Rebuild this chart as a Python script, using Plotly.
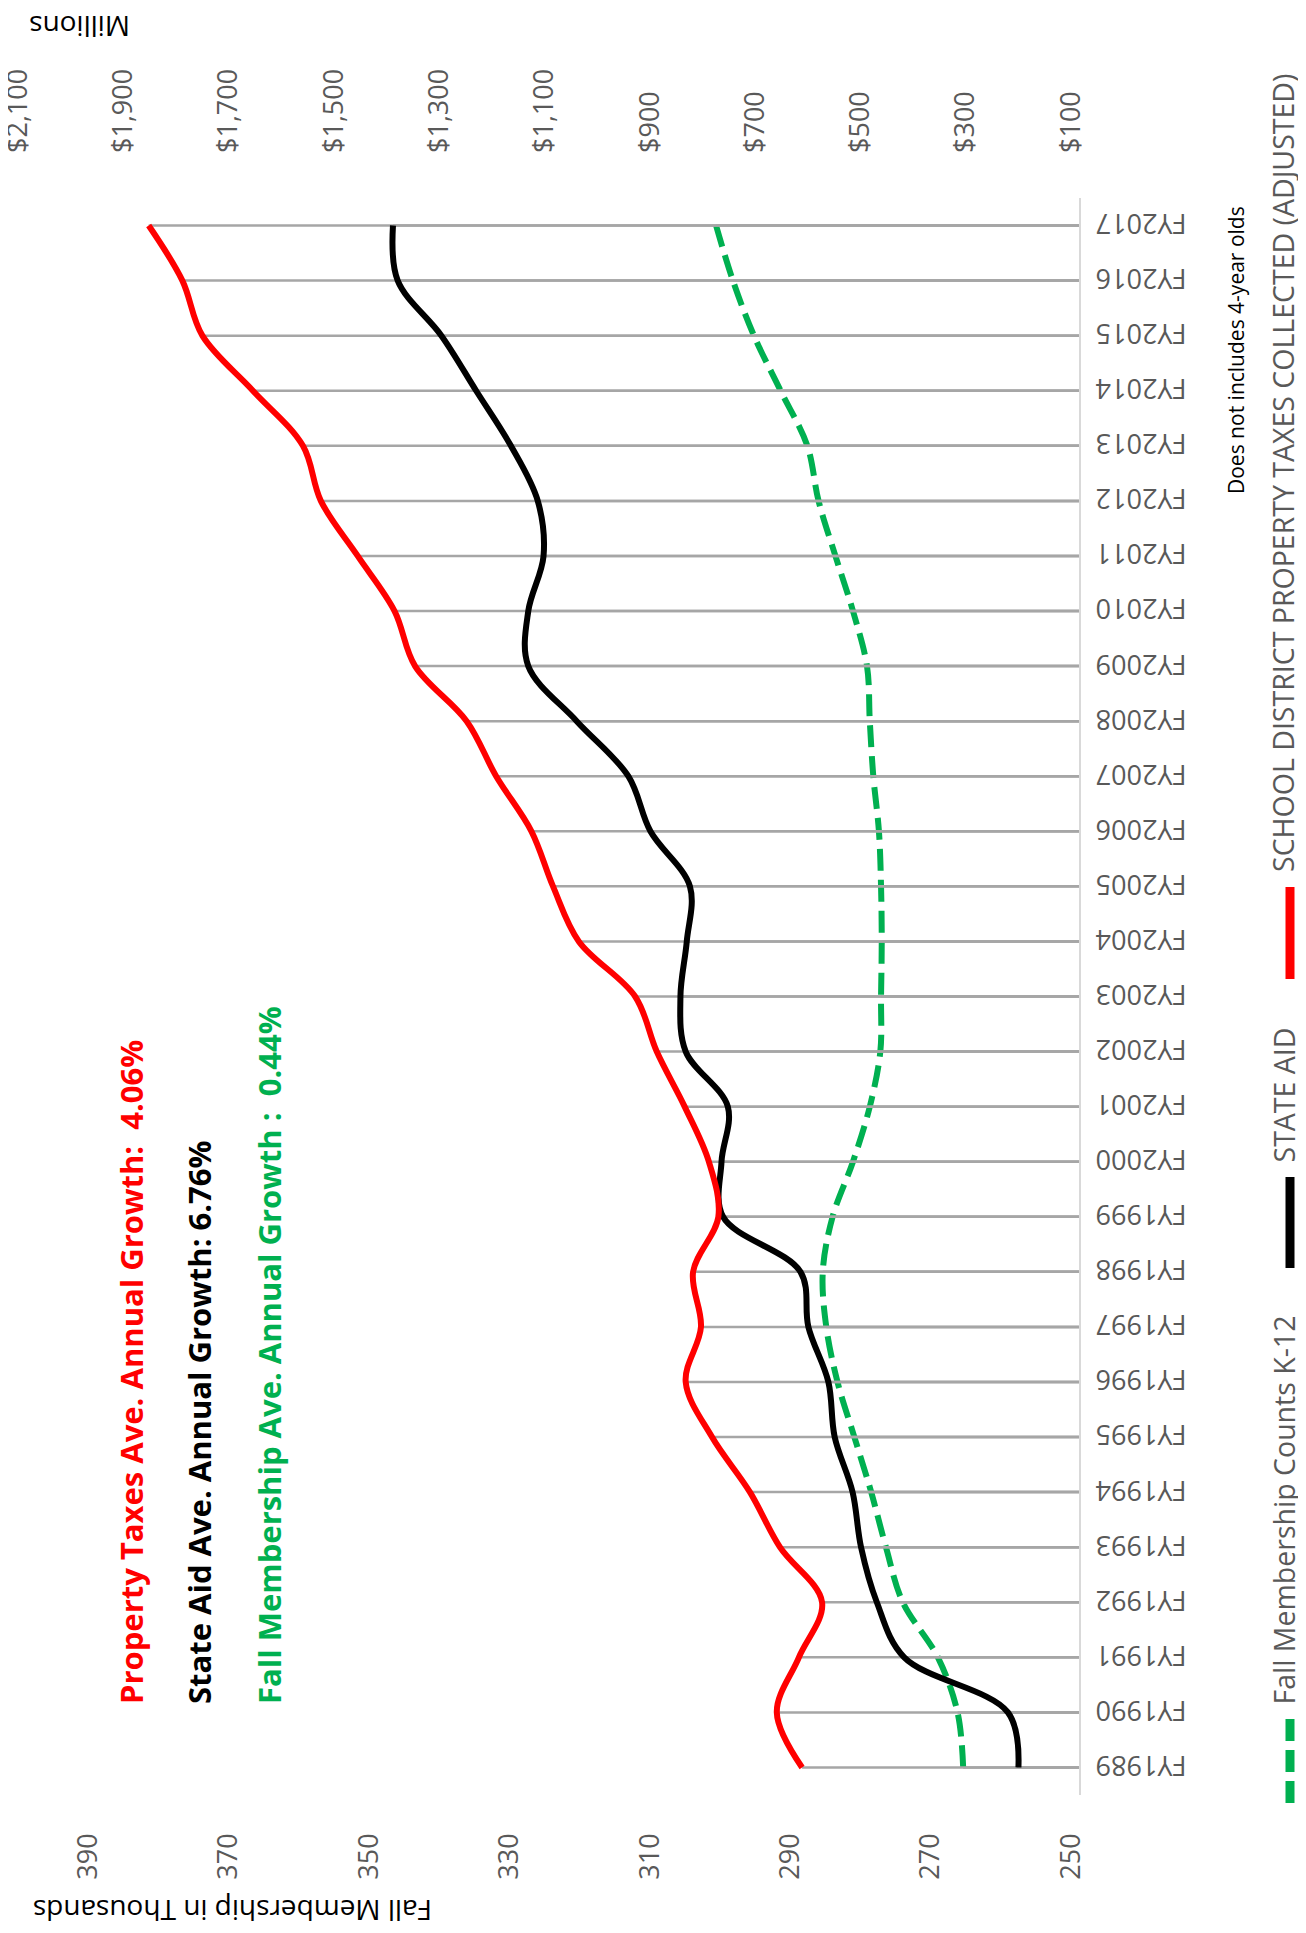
import plotly.graph_objects as go

# ---------------- data ----------------
fiscal_years = ["FY1989", "FY1990", "FY1991", "FY1992", "FY1993", "FY1994", "FY1995",
                "FY1996", "FY1997", "FY1998", "FY1999", "FY2000", "FY2001", "FY2002",
                "FY2003", "FY2004", "FY2005", "FY2006", "FY2007", "FY2008", "FY2009",
                "FY2010", "FY2011", "FY2012", "FY2013", "FY2014", "FY2015", "FY2016",
                "FY2017"]

# Fall membership counts K-12 (thousands)
membership = [266.5, 267.3, 270.1, 275.1, 277.5, 279.6, 282.0, 284.4, 286.0, 286.5,
              285.1, 282.2, 279.8, 278.3, 278.2, 278.1, 278.2, 278.5, 279.3, 279.8,
              280.2, 282.2, 284.7, 287.1, 288.7, 292.5, 296.3, 299.3, 301.7]

# State aid ($ millions)
state_aid = [215, 235, 432, 484, 514, 530, 564, 576, 614, 629,
             776, 779, 767, 847, 857, 845, 839, 914, 956, 1054,
             1146, 1146, 1117, 1128, 1179, 1245, 1311, 1394, 1403]

# School district property taxes collected, adjusted ($ millions)
property_taxes = [626, 674, 632, 588, 668, 725, 797, 847, 818, 833,
                  785, 803, 849, 902, 943, 1050, 1099, 1140, 1207, 1263,
                  1361, 1400, 1470, 1540, 1574, 1669, 1765, 1803, 1867]

membership_ticks = [250, 270, 290, 310, 330, 350, 370, 390]
money_ticks = [100, 300, 500, 700, 900, 1100, 1300, 1500, 1700, 1900, 2100]
money_ticktext = ["$100", "$300", "$500", "$700", "$900", "$1,100", "$1,300",
                  "$1,500", "$1,700", "$1,900", "$2,100"]

legend_labels = ["SCHOOL DISTRICT PROPERTY TAXES COLLECTED (ADJUSTED)", "STATE AID",
                 "Fall Membership Counts K-12"]
growth_notes = ["Property Taxes Ave. Annual Growth:  4.06%",
                "State Aid Ave. Annual Growth: 6.76%",
                "Fall Membership Ave. Annual Growth :  0.44%"]

RED = "#FF0000"
BLACK = "#000000"
GREEN = "#00B050"
GRAY_TXT = "#595959"
FONT = "Open Sans"

W, H = 1306, 1933
L, R, T, B = 18, 235, 190, 146
PW, PH = W - L - R, H - T - B


def px(x):
    return (x - L) / PW


def py(y):
    return (H - B - y) / PH


def drop_segments(values, base):
    xs, ys = [], []
    for cat, v in zip(fiscal_years, values):
        xs += [v, base, None]
        ys += [cat, cat, None]
    return xs, ys


fig = go.Figure()

# drop lines (from each point to the category axis)
for vals, base, xa in [(property_taxes, 100, "x2"), (state_aid, 100, "x2"), (membership, 250, "x")]:
    dx, dy = drop_segments(vals, base)
    fig.add_trace(go.Scatter(x=dx, y=dy, xaxis=xa, yaxis="y", mode="lines",
                             line=dict(color="#A6A6A6", width=2.5),
                             hoverinfo="skip", showlegend=False))

fig.add_trace(go.Scatter(x=membership, y=fiscal_years, xaxis="x", yaxis="y", mode="lines",
                         line=dict(color=GREEN, width=6, dash="22px,9px", shape="spline"),
                         name=legend_labels[2], showlegend=False))
fig.add_trace(go.Scatter(x=state_aid, y=fiscal_years, xaxis="x2", yaxis="y", mode="lines",
                         line=dict(color=BLACK, width=6, shape="spline"),
                         name=legend_labels[1], showlegend=False))
fig.add_trace(go.Scatter(x=property_taxes, y=fiscal_years, xaxis="x2", yaxis="y", mode="lines",
                         line=dict(color=RED, width=6, shape="spline"),
                         name=legend_labels[0], showlegend=False))

tick_font = dict(family=FONT, size=27, color=GRAY_TXT)

fig.update_layout(
    width=W, height=H,
    margin=dict(l=L, r=R, t=T, b=B),
    paper_bgcolor="white", plot_bgcolor="white",
    showlegend=False,
    xaxis=dict(range=[400, 250], tickvals=membership_ticks, tickangle=-90,
               tickfont=tick_font, showgrid=False, zeroline=False, showline=False,
               ticks="", ticklabelstandoff=32, ticklabelshift=8,
               ticklabeloverflow="allow", automargin=False),
    xaxis2=dict(range=[2100, 100], tickvals=money_ticks, ticktext=money_ticktext,
                overlaying="x", side="top", tickangle=-90, tickfont=tick_font,
                showgrid=False, zeroline=False, showline=False, ticks="",
                ticklabelstandoff=44, ticklabelshift=8, ticklabeloverflow="allow",
                automargin=False),
    yaxis=dict(type="category", categoryorder="array", categoryarray=fiscal_years,
               range=[-0.5, 28.5], side="right", tickangle=180, tickfont=tick_font,
               showgrid=False, zeroline=False, showline=True, linecolor="#D9D9D9",
               linewidth=2, ticks="", ticklabelstandoff=100, ticklabelshift=6,
               ticklabeloverflow="allow", automargin=False),
)

annotations = []
# axis titles (upside down)
annotations.append(dict(text="Millions", x=px(72), y=py(19), xref="paper", yref="paper",
                        xanchor="center", yanchor="middle",
                        showarrow=False, textangle=180, font=dict(family=FONT, size=28, color=BLACK)))
annotations.append(dict(text="Fall Membership in Thousands", x=px(225), y=py(1903),
                        xref="paper", yref="paper", xanchor="center", yanchor="middle",
                        showarrow=False, textangle=180,
                        font=dict(family=FONT, size=28, color=BLACK)))
# note
annotations.append(dict(text="Does not includes 4-year olds", x=px(1236 - 8), y=py(488),
                        xref="paper", yref="paper", showarrow=False, textangle=-90,
                        xanchor="center", yanchor="bottom",
                        font=dict(family=FONT, size=21, color=BLACK)))
# growth notes
for txt, col, xc in zip(growth_notes, [RED, BLACK, GREEN], [132, 200, 270]):
    annotations.append(dict(text="<b>" + txt.replace("  ", "&nbsp; ") + "</b>",
                            x=px(xc - 9), y=py(1698), xref="paper", yref="paper",
                            showarrow=False, textangle=-90, xanchor="center", yanchor="bottom",
                            font=dict(family=FONT, size=31, color=col)))
# legend texts
for txt, ybot in zip(legend_labels, [866, 1157, 1699]):
    annotations.append(dict(text=txt, x=px(1283 - 8), y=py(ybot), xref="paper", yref="paper",
                            showarrow=False, textangle=-90, xanchor="center", yanchor="bottom",
                            font=dict(family=FONT, size=28.5, color=GRAY_TXT)))
fig.update_layout(annotations=annotations)

# legend keys
shapes = [
    dict(type="line", xref="paper", yref="paper", x0=px(1282), x1=px(1282), y0=py(879), y1=py(971),
         line=dict(color=RED, width=9)),
    dict(type="line", xref="paper", yref="paper", x0=px(1282), x1=px(1282), y0=py(1169), y1=py(1260),
         line=dict(color=BLACK, width=9)),
    dict(type="line", xref="paper", yref="paper", x0=px(1282), x1=px(1282), y0=py(1711), y1=py(1797),
         line=dict(color=GREEN, width=9, dash="22px,9px")),
]
fig.update_layout(shapes=shapes)

fig.write_html("out.html")
